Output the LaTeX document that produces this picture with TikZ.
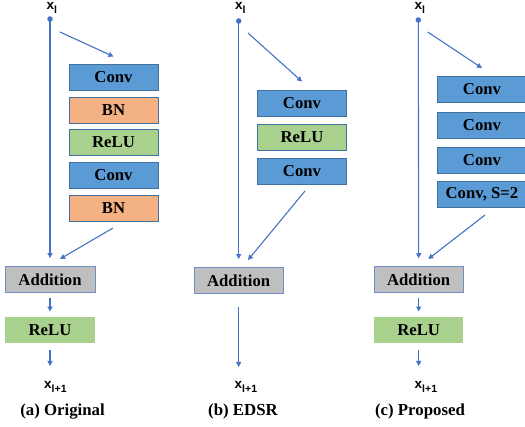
\documentclass[tikz,border=0pt]{standalone}
\usepackage{fontspec}
\setmainfont{Liberation Serif}
\newfontfamily\labsans{Liberation Sans}
\usetikzlibrary{arrows.meta}
\definecolor{convblue}{HTML}{5B9BD5}
\definecolor{bordblue}{HTML}{41719C}
\definecolor{bnorange}{HTML}{F4B183}
\definecolor{relugreen}{HTML}{A9D18E}
\definecolor{addgrey}{HTML}{BFBFBF}
\definecolor{addbord}{HTML}{6F8FC6}
\definecolor{arrblue}{HTML}{4472C4}
\tikzset{
  blk/.style={draw=bordblue, line width=0.9pt, minimum width=89pt, minimum height=26pt, inner sep=0pt,
    font=\fontsize{16.7}{18}\selectfont\bfseries},
  convbox/.style={blk, fill=convblue},
  bnbox/.style={blk, fill=bnorange},
  relubox/.style={blk, fill=relugreen},
  addbox/.style={blk, fill=addgrey, draw=addbord},
  reluplain/.style={blk, fill=relugreen, draw=none},
  arr/.style={draw=arrblue, line width=1.1pt, -{Triangle[length=5pt,width=5pt]}},
  dotst/.style={circle, fill=arrblue, inner sep=0pt, minimum size=5.5pt},
  xlab/.style={inner sep=0pt, anchor=base west, font=\labsans\bfseries\fontsize{13.5}{14}\selectfont},
  captext/.style={inner sep=0pt, anchor=base, font=\fontsize{16.8}{18}\selectfont\bfseries}
}
\newcommand{\xsub}[1]{x\raisebox{-4pt}{\fontsize{10.5}{11}\selectfont #1}}
\begin{document}
\begin{tikzpicture}[x=1pt,y=-1pt]
\useasboundingbox (0,0) rectangle (525,427);
\clip (0,0) rectangle (525,427);
% ---------------- (a) Original ----------------
\node[xlab] (axl) at (46.5,9.5) {\xsub{l}};
\node[dotst] (adot) at (50,19) {};
\node[convbox] (aconv1) at (113.5,77) {Conv};
\node[bnbox] (abn1) at (113.5,110) {BN};
\node[relubox] (arelu1) at (113.5,142.5) {ReLU};
\node[convbox] (aconv2) at (113.5,175) {Conv};
\node[bnbox] (abn2) at (113.5,208) {BN};
\node[addbox, minimum width=90pt] (aadd) at (50,279.5) {Addition};
\node[reluplain, minimum width=90pt] (arelu) at (50,330) {ReLU};
\node[xlab] (axl1) at (44,389) {\xsub{l+1}};
\node[captext] (acap) at (62.5,415.5) {(a) Original};
\coordinate (aS1) at (60,32);
\coordinate (aS2) at (113,228);
\coordinate (aE2) at (60,259);
\coordinate (aE3) at (50,366);
\draw[arr] (adot.center) -- ([yshift=8pt]aadd.north);
\draw[arr] (aS1) -- ([yshift=7pt]aconv1.north);
\draw[arr] (aS2) -- (aE2);
\draw[arr, shorten <=5pt, shorten >=5pt] (aadd.south) -- (arelu.north);
\draw[arr, shorten <=7pt] (arelu.south) -- (aE3);
% ---------------- (b) EDSR ----------------
\node[xlab] (bxl) at (235,10) {\xsub{l}};
\node[dotst] (bdot) at (238.7,21) {};
\node[convbox] (bconv1) at (302,103) {Conv};
\node[relubox] (brelu1) at (302,137) {ReLU};
\node[convbox] (bconv2) at (302,171) {Conv};
\node[addbox] (badd) at (238.7,280.5) {Addition};
\node[xlab] (bxl1) at (234.5,389) {\xsub{l+1}};
\node[captext] (bcap) at (243,415.5) {(b) EDSR};
\coordinate (bS1) at (248,33);
\coordinate (bS2) at (305,191);
\coordinate (bE2) at (248,260);
\coordinate (bE3) at (238.7,367);
\draw[arr] (bdot.center) -- ([yshift=8pt]badd.north);
\draw[arr] (bS1) -- ([yshift=8pt]bconv1.north);
\draw[arr] (bS2) -- (bE2);
\draw[arr, shorten <=13pt] (badd.south) -- (bE3);
% ---------------- (c) Proposed ----------------
\node[xlab] (cxl) at (414.5,9.5) {\xsub{l}};
\node[dotst] (cdot) at (418.3,20) {};
\node[convbox, minimum width=90pt] (cconv1) at (482,89.5) {Conv};
\node[convbox, minimum width=90pt] (cconv2) at (482,125) {Conv};
\node[convbox, minimum width=90pt] (cconv3) at (482,160) {Conv};
\node[convbox, minimum width=90pt] (cconv4) at (482,194.5) {Conv, S=2};
\node[addbox] (cadd) at (418.7,279.7) {Addition};
\node[reluplain] (crelu) at (418.7,330) {ReLU};
\node[xlab] (cxl1) at (414.5,389) {\xsub{l+1}};
\node[captext] (ccap) at (420,415.5) {(c) Proposed};
\coordinate (cS1) at (427.7,32);
\coordinate (cS2) at (485,215);
\coordinate (cE2) at (428.3,259);
\coordinate (cE3) at (418.7,366);
\draw[arr] (cdot.center) -- ([yshift=8pt]cadd.north);
\draw[arr] (cS1) -- ([yshift=8pt]cconv1.north);
\draw[arr] (cS2) -- (cE2);
\draw[arr, shorten <=5pt, shorten >=5pt] (cadd.south) -- (crelu.north);
\draw[arr, shorten <=7pt] (crelu.south) -- (cE3);
\end{tikzpicture}
\end{document}
